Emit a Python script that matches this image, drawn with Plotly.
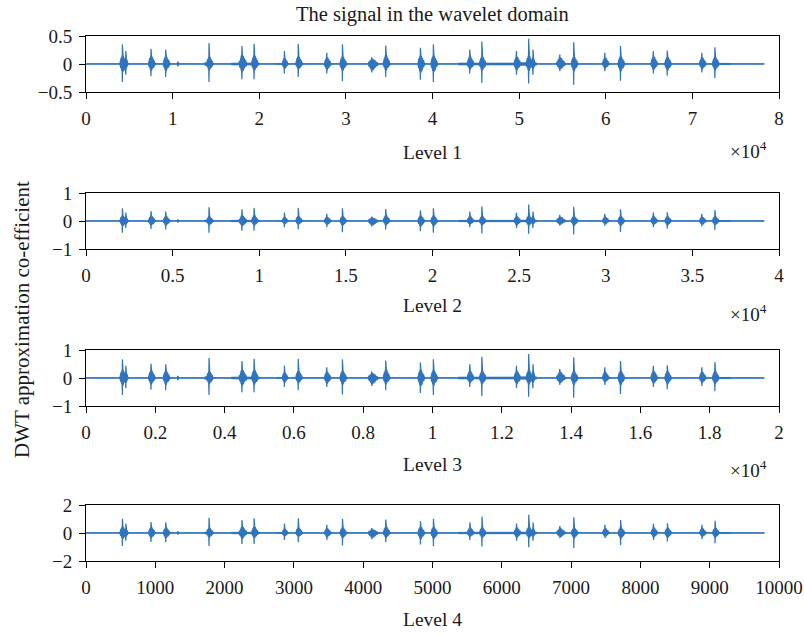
import plotly.graph_objects as go

# ---- data -------------------------------------------------------------
# Number of approximation coefficients at each decomposition level
LEVEL_NAMES = ["Level 1", "Level 2", "Level 3", "Level 4"]
LEVEL_LENGTH = [78300, 39150, 19575, 9790]
# Amplitude gain of the approximation coefficients relative to level 1
LEVEL_GAIN = [1.0, 1.3, 1.9, 2.9]

# Bursts of activity, positions in level-1 samples (x 1e4)
BURST_POS = [0.42, 0.46, 0.75, 0.92, 1.06, 1.42, 1.80, 1.94, 2.29, 2.45,
             2.78, 2.96, 3.30, 3.46, 3.86, 4.01, 4.43, 4.57, 4.97, 5.11,
             5.16, 5.47, 5.63, 5.99, 6.17, 6.55, 6.71, 7.11, 7.26]
BURST_HI = [0.35, 0.23, 0.27, 0.26, 0.04, 0.375, 0.32, 0.36, 0.23, 0.36,
            0.20, 0.35, 0.12, 0.33, 0.29, 0.35, 0.26, 0.40, 0.23, 0.45,
            0.26, 0.17, 0.39, 0.20, 0.32, 0.23, 0.24, 0.20, 0.30]
BURST_LO = [-0.32, -0.19, -0.22, -0.23, -0.04, -0.32, -0.27, -0.27, -0.17, -0.23,
            -0.17, -0.31, -0.15, -0.23, -0.28, -0.32, -0.17, -0.34, -0.19, -0.35,
            -0.19, -0.13, -0.37, -0.13, -0.30, -0.17, -0.21, -0.15, -0.25]
# half width of each burst (level-1 samples x 1e4) and its core level (fraction of peak)
BURST_HALFWIDTH = [0.03, 0.015, 0.03, 0.03, 0.006, 0.03, 0.035, 0.03, 0.025, 0.03,
                   0.03, 0.03, 0.045, 0.03, 0.03, 0.03, 0.03, 0.03, 0.03, 0.03,
                   0.015, 0.04, 0.03, 0.03, 0.03, 0.03, 0.03, 0.03, 0.03]
BURST_CORE = [0.45, 0.5, 0.55, 0.55, 0.8, 0.35, 0.5, 0.45, 0.5, 0.4,
              0.6, 0.4, 0.75, 0.5, 0.55, 0.45, 0.55, 0.35, 0.6, 0.35,
              0.5, 0.7, 0.35, 0.6, 0.45, 0.6, 0.55, 0.6, 0.45]

# Low-level background activity: start, end (x 1e4), amplitude
NOISE_START = [1.37, 1.68, 2.20, 4.30, 4.95, 7.26, 0.0]
NOISE_END = [1.45, 2.00, 2.32, 4.95, 5.20, 7.44, 7.83]
NOISE_AMP = [0.025, 0.02, 0.01, 0.02, 0.025, 0.012, 0.004]

# Axis ticks per level
X_TICKVALS = [list(range(0, 80001, 10000)), list(range(0, 40001, 5000)),
              list(range(0, 20001, 2000)), list(range(0, 10001, 1000))]
X_TICKTEXT = [["0", "1", "2", "3", "4", "5", "6", "7", "8"],
              ["0", "0.5", "1", "1.5", "2", "2.5", "3", "3.5", "4"],
              ["0", "0.2", "0.4", "0.6", "0.8", "1", "1.2", "1.4", "1.6", "1.8", "2"],
              ["0", "1000", "2000", "3000", "4000", "5000", "6000", "7000", "8000", "9000", "10000"]]
X_RANGE = [80000, 40000, 20000, 10000]
Y_TICKVALS = [[-0.5, 0, 0.5], [-1, 0, 1], [-1, 0, 1], [-2, 0, 2]]
Y_TICKTEXT = [["\u22120.5", "0", "0.5"], ["\u22121", "0", "1"], ["\u22121", "0", "1"], ["\u22122", "0", "2"]]
Y_RANGE = [0.5, 1, 1, 2]

# ---- layout helpers ---------------------------------------------------
W, H = 804, 635
FONT = "Liberation Serif"
TEXT = "#1a1a1a"
LINE = "#2f74bc"
PLOT_LEFT, PLOT_RIGHT = 86, 779
PLOT_ROWS = [(36, 92), (193, 249), (350, 406), (505, 561)]
LABEL_Y = [152, 305, 464, 619]
EXP_Y = [150, 313, 469]

# ragged envelope of a burst: (offset in half widths, fraction of core level);
# None marks the peak sample
UPPER = [(-1.0, 0.0), (-0.8, 0.35), (-0.62, 0.2), (-0.45, 0.7), (-0.3, 0.45),
         (-0.15, 0.95), (-0.04, 0.7), (0.0, None), (0.04, 0.8), (0.15, 1.0),
         (0.3, 0.6), (0.45, 0.9), (0.6, 0.45), (0.8, 0.65), (1.0, 0.3),
         (1.25, 0.35), (1.5, 0.12), (1.9, 0.0)]
LOWER = [(-1.0, 0.0), (-0.78, 0.25), (-0.58, 0.5), (-0.42, 0.3), (-0.25, 0.85),
         (-0.1, 0.6), (-0.03, 0.9), (0.0, None), (0.05, 0.75), (0.18, 1.0),
         (0.32, 0.7), (0.5, 0.85), (0.68, 0.4), (0.85, 0.55), (1.05, 0.25),
         (1.3, 0.3), (1.55, 0.1), (1.9, 0.0)]


def fx(p):
    return p / W


def fy(p):
    return 1 - p / H


fig = go.Figure()

for k in range(4):
    scale = LEVEL_LENGTH[k] / LEVEL_LENGTH[0]
    gain = LEVEL_GAIN[k]
    xa = "x" if k == 0 else f"x{k + 1}"
    ya = "y" if k == 0 else f"y{k + 1}"

    # baseline
    fig.add_trace(go.Scatter(x=[0, LEVEL_LENGTH[k]], y=[0, 0], mode="lines",
                             line=dict(color=LINE, width=1.6), xaxis=xa, yaxis=ya,
                             hoverinfo="skip", showlegend=False))

    # background activity bands
    nx, ny = [], []
    for s, e, a in zip(NOISE_START, NOISE_END, NOISE_AMP):
        x0, x1 = s * 1e4 * scale, e * 1e4 * scale
        nx += [x0, x1, x1, x0, x0, None]
        ny += [a * gain, a * gain, -a * gain, -a * gain, a * gain, None]
    fig.add_trace(go.Scatter(x=nx, y=ny, mode="lines", fill="toself",
                             fillcolor=LINE, line=dict(color=LINE, width=0.5),
                             xaxis=xa, yaxis=ya, hoverinfo="skip", showlegend=False))

    # bursts
    bx, by = [], []
    for c, hi, lo, hw, core in zip(BURST_POS, BURST_HI, BURST_LO, BURST_HALFWIDTH, BURST_CORE):
        cx, w = c * 1e4 * scale, hw * 1e4 * scale
        top = [(cx + off * w, (hi if f is None else hi * core * f) * gain) for off, f in UPPER]
        bot = [(cx + off * w, (lo if f is None else lo * core * f) * gain) for off, f in reversed(LOWER)]
        for px_, py_ in top + bot + [top[0]]:
            bx.append(px_)
            by.append(py_)
        bx.append(None)
        by.append(None)
    fig.add_trace(go.Scatter(x=bx, y=by, mode="lines", fill="toself",
                             fillcolor=LINE, line=dict(color=LINE, width=1.2),
                             xaxis=xa, yaxis=ya, hoverinfo="skip", showlegend=False))

    top_px, bot_px = PLOT_ROWS[k]
    axis_common = dict(showline=True, mirror=True, linecolor="black", linewidth=1,
                       ticks="outside", ticklen=6, tickwidth=1, tickcolor="black",
                       showgrid=False, zeroline=False, automargin=False,
                       ticklabelstandoff=3,
                       tickfont=dict(family=FONT, size=19, color=TEXT))
    fig.layout[f"xaxis{'' if k == 0 else k + 1}"] = dict(
        domain=[fx(PLOT_LEFT), fx(PLOT_RIGHT)], anchor=ya,
        range=[0, X_RANGE[k]], tickmode="array",
        tickvals=X_TICKVALS[k], ticktext=X_TICKTEXT[k], **axis_common)
    fig.layout[f"yaxis{'' if k == 0 else k + 1}"] = dict(
        domain=[fy(bot_px), fy(top_px)], anchor=xa,
        range=[-Y_RANGE[k], Y_RANGE[k]], tickmode="array",
        tickvals=Y_TICKVALS[k], ticktext=Y_TICKTEXT[k], **axis_common)

annotations = [dict(text="The signal in the wavelet domain", x=fx(432), y=fy(15),
                    font=dict(family=FONT, size=20.5, color=TEXT))]
for k in range(4):
    annotations.append(dict(text=LEVEL_NAMES[k], x=fx(432), y=fy(LABEL_Y[k]),
                            font=dict(family=FONT, size=19.5, color=TEXT)))
for k in range(3):
    annotations.append(dict(text="\u00d710<sup>4</sup>", x=fx(748), y=fy(EXP_Y[k]),
                            font=dict(family=FONT, size=19, color=TEXT)))
annotations.append(dict(text="DWT approximation co-efficient", x=fx(22), y=fy(320),
                        textangle=-90, font=dict(family=FONT, size=21, color=TEXT)))
for a in annotations:
    a.update(xref="paper", yref="paper", showarrow=False,
             xanchor="center", yanchor="middle")

fig.update_layout(width=W, height=H, margin=dict(l=0, r=0, t=0, b=0),
                  paper_bgcolor="white", plot_bgcolor="white",
                  annotations=annotations, showlegend=False)

fig.write_html("out.html")
